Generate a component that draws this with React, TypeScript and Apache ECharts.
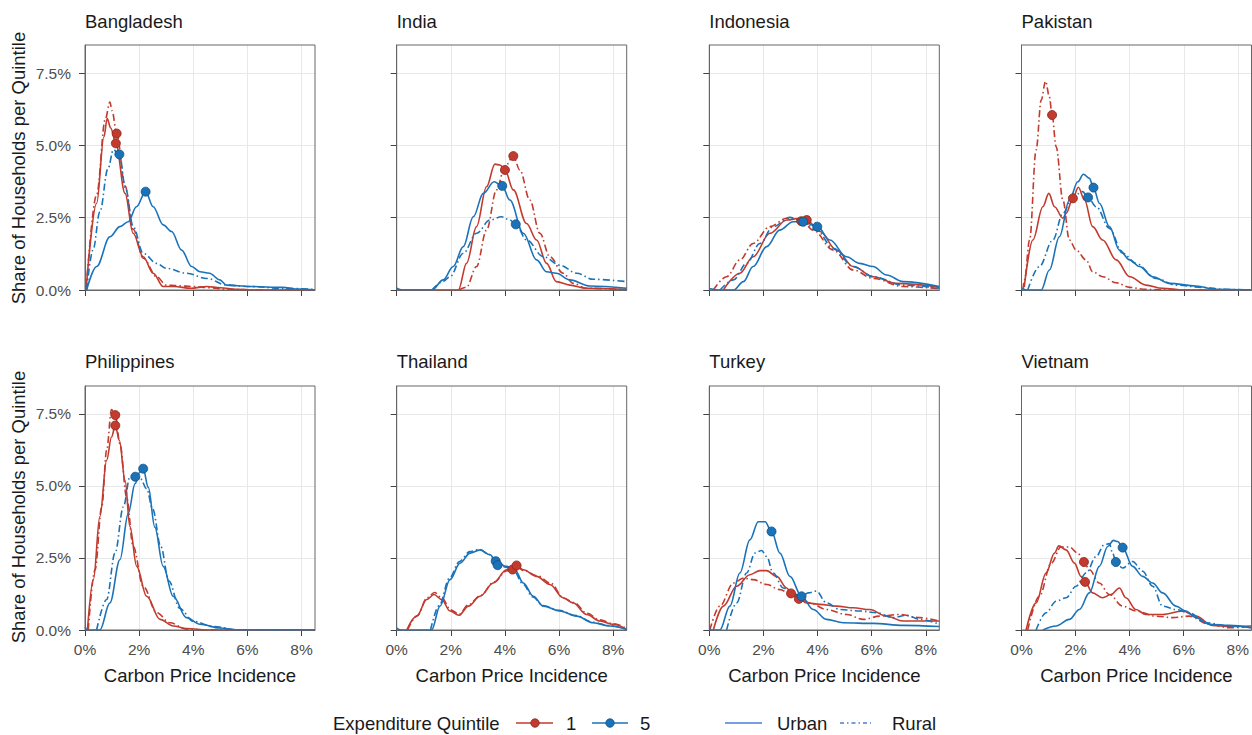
import React, { useEffect, useRef } from "react";
import * as echarts from "echarts";

// ---------- data (x = carbon price incidence %, y = share of households %) ----------
const COUNTRY_NAMES = ["Bangladesh", "India", "Indonesia", "Pakistan", "Philippines", "Thailand", "Turkey", "Vietnam"];
const X_TICKS = [0, 2, 4, 6, 8];
const Y_TICKS = [0, 2.5, 5, 7.5];

const BANGLADESH_Q1_URBAN = [[0.04,0],[0.43,3.0],[0.7,5.3],[0.82,5.93],[0.95,5.6],[1.14,5.07],[1.48,3.34],[1.78,1.96],[2.15,1.15],[2.52,0.58],[2.89,0.12],[3.3,0.12],[3.9,0.06],[4.5,0.12],[5.0,0.08],[5.6,0.02],[6.5,0],[8.5,0]];
const BANGLADESH_Q1_RURAL = [[0.04,0],[0.43,3.3],[0.75,5.9],[0.92,6.5],[1.0,6.2],[1.17,5.41],[1.48,3.6],[1.78,2.1],[2.15,1.1],[2.65,0.46],[3.0,0.17],[3.4,0.15],[4.0,0.12],[4.6,0.08],[5.2,0.03],[6.0,0.01],[8.5,0]];
const BANGLADESH_Q5_URBAN = [[0.06,0],[0.43,0.81],[0.92,1.84],[1.29,2.19],[1.6,2.36],[1.9,2.88],[2.24,3.4],[2.52,2.88],[2.89,2.25],[3.2,2.02],[3.57,1.38],[3.94,0.81],[4.25,0.63],[4.6,0.58],[4.98,0.35],[5.23,0.17],[6.1,0.12],[7.3,0.09],[7.9,0.03],[8.5,0]];
const BANGLADESH_Q5_RURAL = [[0.06,0],[0.3,1.4],[0.55,2.7],[0.85,4.2],[1.05,4.85],[1.27,4.69],[1.5,3.5],[1.78,2.19],[2.15,1.27],[2.65,0.92],[3.0,0.75],[3.75,0.58],[4.5,0.4],[5.23,0.17],[6.1,0.12],[7.3,0.06],[8.5,0.02]];
const BANGLADESH_MARKERS = [[1.14,5.07],[1.17,5.41],[2.24,3.4],[1.27,4.69]];

const INDIA_Q1_URBAN = [[0,0],[2.28,0],[2.58,0.92],[2.95,2.19],[3.32,3.57],[3.63,4.35],[3.82,4.32],[4.0,4.15],[4.31,3.46],[4.8,2.3],[5.17,1.73],[5.54,0.92],[5.9,0.29],[6.4,0.17],[7.0,0.06],[8.5,0.02]];
const INDIA_Q1_RURAL = [[2.3,0],[2.58,0.1],[2.95,0.81],[3.32,2.07],[3.69,3.46],[4.0,4.26],[4.31,4.63],[4.55,4.15],[4.92,3.11],[5.29,1.96],[5.66,1.15],[6.15,0.58],[6.52,0.23],[7.0,0.06],[8.5,0.01]];
const INDIA_Q5_URBAN = [[0,0.06],[0.2,0],[1.3,0],[1.72,0.35],[2.09,0.81],[2.46,1.5],[2.83,2.53],[3.2,3.34],[3.6,3.74],[3.9,3.6],[4.18,3.11],[4.68,1.96],[5.17,1.04],[5.54,0.63],[5.9,0.58],[6.4,0.35],[7.14,0.14],[8.5,0.06]];
const INDIA_Q5_RURAL = [[1.3,0],[1.72,0.3],[1.97,0.46],[2.46,1.27],[2.95,1.96],[3.45,2.42],[3.88,2.53],[4.18,2.42],[4.4,2.27],[4.8,1.73],[5.42,1.15],[6.03,0.86],[6.65,0.58],[7.26,0.37],[8.5,0.29]];
const INDIA_MARKERS = [[4.0,4.15],[4.31,4.63],[3.9,3.6],[4.4,2.27]];

const INDONESIA_Q1_URBAN = [[0.52,0],[1.13,0.58],[1.62,1.15],[2.24,1.96],[2.86,2.42],[3.35,2.48],[3.6,2.42],[4.09,2.02],[4.7,1.38],[5.32,0.81],[6.06,0.46],[6.9,0.23],[8.5,0.1]];
const INDONESIA_Q1_RURAL = [[0.15,0],[0.64,0.46],[1.13,1.04],[1.62,1.61],[2.24,2.19],[2.86,2.48],[3.4,2.42],[3.84,2.07],[4.58,1.38],[5.32,0.69],[6.06,0.4],[7.16,0.12],[8.5,0.05]];
const INDONESIA_Q5_URBAN = [[0,0.05],[0.3,0],[0.9,0],[1.26,0.29],[1.62,0.81],[2.12,1.5],[2.6,2.07],[3.1,2.36],[3.5,2.36],[3.99,2.19],[4.46,1.73],[5.07,1.15],[5.56,0.92],[6.05,0.81],[6.55,0.52],[7.16,0.29],[8.5,0.12]];
const INDONESIA_Q5_RURAL = [[0.4,0],[0.89,0.35],[1.38,0.92],[1.87,1.61],[2.36,2.19],[2.98,2.51],[3.47,2.36],[3.96,2.07],[4.58,1.44],[5.32,0.81],[6.06,0.46],[7.16,0.17],[8.5,0.06]];
const INDONESIA_MARKERS = [[3.6,2.42],[3.4,2.38],[3.99,2.19],[3.47,2.36]];

const PAKISTAN_Q1_URBAN = [[0.1,0.1],[0.42,1.73],[0.79,2.88],[1.01,3.34],[1.22,2.88],[1.53,2.48],[1.65,2.65],[1.9,3.17],[2.1,3.55],[2.33,3.11],[2.63,2.19],[3.0,1.73],[3.5,1.04],[4.0,0.46],[4.6,0.17],[5.2,0.06],[6.0,0],[8.5,0]];
const PAKISTAN_Q1_RURAL = [[0.05,0],[0.11,0.35],[0.3,1.73],[0.54,4.84],[0.73,6.57],[0.89,7.22],[1.03,6.68],[1.13,6.05],[1.28,4.95],[1.53,3.11],[1.77,1.73],[2.02,1.38],[2.39,1.04],[2.63,0.63],[3.0,0.46],[3.5,0.25],[4.0,0.09],[4.6,0.02],[5.5,0],[8.5,0]];
const PAKISTAN_Q5_URBAN = [[0,0.06],[0.2,0],[0.73,0],[1.03,0.69],[1.4,1.84],[1.77,3.11],[2.08,3.74],[2.29,4.0],[2.51,3.86],[2.66,3.54],[2.88,3.0],[3.25,2.19],[3.62,1.38],[4.0,1.04],[4.36,0.81],[4.85,0.46],[5.47,0.23],[6.45,0.14],[7.19,0.02],[8.5,0]];
const PAKISTAN_Q5_RURAL = [[0.23,0],[0.66,0.81],[1.16,1.73],[1.53,2.65],[1.9,3.23],[2.26,3.4],[2.46,3.2],[2.76,2.88],[3.25,2.13],[3.74,1.27],[4.23,0.92],[4.97,0.4],[5.71,0.17],[6.7,0.09],[7.5,0.02],[8.5,0]];
const PAKISTAN_MARKERS = [[1.9,3.17],[1.13,6.05],[2.66,3.54],[2.46,3.2]];

const PHILIPPINES_Q1_URBAN = [[0.09,0],[0.31,1.75],[0.55,3.94],[0.8,5.89],[0.98,6.7],[1.12,7.1],[1.27,6.58],[1.48,5.2],[1.66,3.59],[1.91,2.21],[2.28,1.17],[2.77,0.37],[3.26,0.14],[3.75,0.05],[4.5,0],[8.5,0]];
const PHILIPPINES_Q1_RURAL = [[0.12,0],[0.37,2.09],[0.62,4.28],[0.8,6.24],[0.98,7.65],[1.12,7.46],[1.29,6.47],[1.54,4.6],[1.78,2.9],[2.15,1.52],[2.65,0.6],[3.14,0.25],[3.75,0.03],[4.5,0],[8.5,0]];
const PHILIPPINES_Q5_URBAN = [[0,0.1],[0.1,0],[0.55,0],[0.92,0.94],[1.29,2.44],[1.6,4.05],[1.85,5.08],[2.03,5.49],[2.15,5.6],[2.34,4.95],[2.58,3.57],[2.89,2.21],[3.26,1.17],[3.75,0.43],[4.25,0.2],[4.98,0.07],[5.7,0],[8.5,0]];
const PHILIPPINES_Q5_RURAL = [[0.43,0],[0.8,1.06],[1.11,2.67],[1.42,4.28],[1.66,5.31],[1.86,5.32],[2.05,5.25],[2.28,4.9],[2.5,4.2],[2.8,2.9],[3.1,1.7],[3.5,0.75],[4.0,0.3],[4.74,0.12],[5.7,0],[8.5,0]];
const PHILIPPINES_MARKERS = [[1.12,7.1],[1.12,7.46],[2.15,5.6],[1.86,5.32]];

const THAILAND_Q1_URBAN = [[0.37,0],[0.74,0.48],[1.11,1.06],[1.38,1.23],[1.66,1.06],[1.97,0.66],[2.3,0.51],[2.65,0.83],[3.08,1.17],[3.57,1.63],[4.06,2.09],[4.28,2.12],[4.43,2.23],[4.68,2.09],[5.17,1.86],[5.66,1.58],[6.15,1.12],[6.52,0.94],[7.02,0.54],[7.51,0.31],[8.0,0.2],[8.5,0.02]];
const THAILAND_Q1_RURAL = [[0.4,0],[0.77,0.5],[1.12,1.12],[1.4,1.3],[1.68,1.1],[1.99,0.7],[2.3,0.55],[2.66,0.88],[3.1,1.2],[3.6,1.67],[4.06,2.05],[4.3,2.12],[4.43,2.2],[4.7,2.06],[5.2,1.88],[5.7,1.62],[6.17,1.1],[6.55,0.95],[7.04,0.58],[7.5,0.35],[8.0,0.22],[8.5,0.05]];
const THAILAND_Q5_URBAN = [[0,0.06],[0.15,0],[1.29,0],[1.6,0.83],[1.97,1.75],[2.34,2.32],[2.71,2.67],[3.08,2.78],[3.45,2.61],[3.69,2.35],[4.06,2.21],[4.37,2.09],[4.68,1.63],[5.05,1.17],[5.42,0.83],[6.03,0.66],[6.65,0.48],[7.26,0.25],[7.88,0.14],[8.5,0.02]];
const THAILAND_Q5_RURAL = [[1.25,0],[1.57,0.85],[1.95,1.8],[2.32,2.38],[2.7,2.72],[3.05,2.8],[3.42,2.62],[3.66,2.38],[4.04,2.18],[4.35,2.02],[4.66,1.6],[5.03,1.15],[5.4,0.85],[6.0,0.68],[6.63,0.5],[7.24,0.27],[7.86,0.15],[8.5,0.03]];
const THAILAND_MARKERS = [[4.28,2.1],[4.43,2.24],[3.66,2.39],[3.73,2.25]];

const TURKEY_Q1_URBAN = [[0.15,0],[0.52,0.83],[1.01,1.52],[1.5,1.92],[1.87,2.06],[2.12,2.06],[2.49,1.86],[2.86,1.46],[3.02,1.3],[3.31,1.08],[3.6,0.94],[4.09,0.89],[4.7,0.83],[5.32,0.77],[5.93,0.71],[6.55,0.48],[7.16,0.31],[8.5,0.31]];
const TURKEY_Q1_RURAL = [[0.02,0],[0.39,0.83],[0.89,1.63],[1.26,1.8],[1.62,1.75],[2.12,1.58],[2.61,1.4],[2.98,1.27],[3.31,1.1],[3.72,0.94],[4.33,0.71],[5.07,0.54],[5.69,0.37],[6.3,0.48],[7.04,0.54],[7.78,0.43],[8.5,0.31]];
const TURKEY_Q5_URBAN = [[0,0.06],[0.1,0],[0.39,0],[0.76,0.83],[1.13,1.98],[1.5,3.13],[1.81,3.76],[2.06,3.76],[2.3,3.42],[2.61,2.67],[2.98,1.86],[3.41,1.17],[3.84,0.71],[4.33,0.37],[4.95,0.25],[6.06,0.23],[7.16,0.16],[8.5,0.12]];
const TURKEY_Q5_RURAL = [[0.64,0],[1.01,0.94],[1.38,1.98],[1.69,2.67],[1.93,2.76],[2.12,2.55],[2.36,1.98],[2.73,1.46],[3.1,1.27],[3.41,1.17],[3.66,1.29],[3.96,1.35],[4.33,0.94],[4.82,0.71],[5.56,0.66],[6.18,0.6],[6.79,0.43],[7.28,0.51],[7.78,0.37],[8.5,0.2]];
const TURKEY_MARKERS = [[3.31,1.08],[3.02,1.27],[2.3,3.42],[3.41,1.17]];

const VIETNAM_Q1_URBAN = [[0.17,0],[0.54,0.94],[0.91,1.98],[1.22,2.67],[1.38,2.92],[1.65,2.78],[1.96,2.32],[2.2,1.86],[2.35,1.67],[2.63,1.29],[3.0,1.12],[3.31,1.23],[3.62,1.46],[3.86,1.12],[4.23,0.71],[4.6,0.54],[5.22,0.54],[5.96,0.66],[6.45,0.48],[7.06,0.16],[7.68,0.12],[8.5,0.14]];
const VIETNAM_Q1_RURAL = [[0.23,0],[0.66,1.17],[1.1,2.32],[1.46,2.88],[1.77,2.88],[2.08,2.67],[2.31,2.36],[2.51,2.09],[2.88,1.63],[3.25,1.23],[3.74,0.83],[4.23,0.66],[4.97,0.48],[5.59,0.43],[6.2,0.48],[6.94,0.2],[7.68,0.08],[8.5,0.12]];
const VIETNAM_Q5_URBAN = [[0.79,0],[1.28,0.14],[1.77,0.37],[2.14,0.71],[2.51,1.29],[2.88,2.21],[3.19,2.9],[3.4,3.11],[3.56,3.07],[3.74,2.86],[4.11,2.21],[4.48,1.86],[4.85,1.63],[5.22,1.29],[5.71,0.83],[6.08,0.66],[6.45,0.43],[6.94,0.2],[7.68,0.16],[8.5,0.08]];
const VIETNAM_Q5_RURAL = [[0.54,0],[0.91,0.6],[1.28,1.0],[1.65,1.12],[2.02,1.52],[2.39,1.98],[2.76,2.55],[3.06,2.96],[3.25,3.0],[3.37,2.67],[3.49,2.36],[3.74,2.15],[4.11,2.38],[4.48,2.04],[4.85,1.52],[5.22,0.83],[5.71,0.71],[6.2,0.6],[6.82,0.25],[7.68,0.14],[8.5,0.08]];
const VIETNAM_MARKERS = [[2.35,1.67],[2.31,2.36],[3.74,2.86],[3.49,2.36]];

// ---------- layout / style ----------
const RED = "#c23b2e";
const BLUE = "#1a73b9";
const RED_EDGE = "#8a2519";
const BLUE_EDGE = "#0e4c80";
const LEGEND_BLUE = "#4a7ddb";
const FONT = "'Liberation Sans', Arial, sans-serif";
const DASH_DOT = [7, 3, 1.5, 3];
const COL_LEFT = [85, 396.7, 709.3, 1021.5];
const ROW_TOP = [45, 386];
const ROW_H = [245, 244];
const PANEL_W = 230;
const X_MAX = 8.5;
const Y_MAX = 8.47;

const PANELS = [
  [BANGLADESH_Q1_URBAN, BANGLADESH_Q1_RURAL, BANGLADESH_Q5_URBAN, BANGLADESH_Q5_RURAL, BANGLADESH_MARKERS],
  [INDIA_Q1_URBAN, INDIA_Q1_RURAL, INDIA_Q5_URBAN, INDIA_Q5_RURAL, INDIA_MARKERS],
  [INDONESIA_Q1_URBAN, INDONESIA_Q1_RURAL, INDONESIA_Q5_URBAN, INDONESIA_Q5_RURAL, INDONESIA_MARKERS],
  [PAKISTAN_Q1_URBAN, PAKISTAN_Q1_RURAL, PAKISTAN_Q5_URBAN, PAKISTAN_Q5_RURAL, PAKISTAN_MARKERS],
  [PHILIPPINES_Q1_URBAN, PHILIPPINES_Q1_RURAL, PHILIPPINES_Q5_URBAN, PHILIPPINES_Q5_RURAL, PHILIPPINES_MARKERS],
  [THAILAND_Q1_URBAN, THAILAND_Q1_RURAL, THAILAND_Q5_URBAN, THAILAND_Q5_RURAL, THAILAND_MARKERS],
  [TURKEY_Q1_URBAN, TURKEY_Q1_RURAL, TURKEY_Q5_URBAN, TURKEY_Q5_RURAL, TURKEY_MARKERS],
  [VIETNAM_Q1_URBAN, VIETNAM_Q1_RURAL, VIETNAM_Q5_URBAN, VIETNAM_Q5_RURAL, VIETNAM_MARKERS],
];

function buildOption() {
  const grid: any[] = [];
  const xAxis: any[] = [];
  const yAxis: any[] = [];
  const series: any[] = [];
  const graphic: any[] = [];

  COUNTRY_NAMES.forEach((name, i) => {
    const row = Math.floor(i / 4);
    const col = i % 4;
    const left = COL_LEFT[col];
    const top = ROW_TOP[row];
    const h = ROW_H[row];
    grid.push({ left, top, width: PANEL_W, height: h, show: false, containLabel: false });

    xAxis.push({
      type: "value",
      gridIndex: i,
      min: 0,
      max: X_MAX,
      interval: 2,
      axisLine: { show: true, lineStyle: { color: "#666", width: 1 } },
      axisTick: { show: true, length: 6, customValues: X_TICKS, lineStyle: { color: "#444" } },
      axisLabel: {
        show: row === 1,
        customValues: X_TICKS,
        formatter: (v: number) => `${v}%`,
        color: "#4d4d4d",
        fontSize: 15.5,
        fontFamily: FONT,
        margin: 11,
      },
      splitLine: { show: true, lineStyle: { color: "#e8e8e8", width: 1 } },
      name: row === 1 ? "Carbon Price Incidence" : "",
      nameLocation: "middle",
      nameGap: 36,
      nameTextStyle: { color: "#1a1a1a", fontSize: 18.5, fontFamily: FONT },
    });

    yAxis.push({
      type: "value",
      gridIndex: i,
      min: 0,
      max: Y_MAX,
      interval: 2.5,
      axisLine: { show: true, lineStyle: { color: "#666", width: 1 } },
      axisTick: { show: true, length: 6, customValues: Y_TICKS, lineStyle: { color: "#444" } },
      axisLabel: {
        show: col === 0,
        customValues: Y_TICKS,
        formatter: (v: number) => `${v.toFixed(1)}%`,
        color: "#4d4d4d",
        fontSize: 15.5,
        fontFamily: FONT,
        margin: 14,
      },
      splitLine: { show: true, lineStyle: { color: "#e8e8e8", width: 1 } },
    });

    const [q1u, q1r, q5u, q5r, markers] = PANELS[i] as any[];
    const lines = [
      { data: q1u, color: RED, dash: "solid" },
      { data: q1r, color: RED, dash: DASH_DOT },
      { data: q5u, color: BLUE, dash: "solid" },
      { data: q5r, color: BLUE, dash: DASH_DOT },
    ];
    lines.forEach((l) => {
      series.push({
        type: "line",
        xAxisIndex: i,
        yAxisIndex: i,
        data: l.data,
        showSymbol: false,
        symbol: "none",
        smooth: 0.35,
        smoothMonotone: "x",
        silent: true,
        lineStyle: { color: l.color, width: 1.6, type: l.dash },
        z: 3,
      });
    });
    series.push({
      type: "scatter",
      xAxisIndex: i,
      yAxisIndex: i,
      symbolSize: 9,
      silent: true,
      z: 5,
      itemStyle: { opacity: 1 },
      data: (markers as number[][]).map((m, k) => ({
        value: m,
        itemStyle: {
          opacity: 1,
          color: k < 2 ? RED : BLUE,
          borderColor: k < 2 ? RED_EDGE : BLUE_EDGE,
          borderWidth: 0.8,
        },
      })),
    });

    // panel frame
    graphic.push({
      type: "rect",
      silent: true,
      z: 50,
      shape: { x: left, y: top, width: PANEL_W, height: h },
      style: { fill: "transparent", stroke: "#666", lineWidth: 1 },
    });
    // panel title
    graphic.push({
      type: "text",
      silent: true,
      x: left,
      y: row === 0 ? 21 : 361,
      style: {
        text: name,
        fill: "#1a1a1a",
        font: `18.5px ${FONT}`,
        align: "left",
        verticalAlign: "middle",
        textAlign: "left",
        textVerticalAlign: "middle",
      },
    });
  });

  // y axis titles
  [168, 507].forEach((cy) => {
    graphic.push({
      type: "text",
      silent: true,
      x: 18.5,
      y: cy,
      rotation: Math.PI / 2,
      style: {
        text: "Share of Households per Quintile",
        fill: "#1a1a1a",
        font: `18.5px ${FONT}`,
        align: "center",
        verticalAlign: "middle",
        textAlign: "center",
        textVerticalAlign: "middle",
      },
    });
  });

  // legend
  const ly = 723;
  const txt = (text: string, x: number) => ({
    type: "text",
    silent: true,
    x,
    y: ly,
    style: {
      text,
      fill: "#1a1a1a",
      font: `18.5px ${FONT}`,
      align: "left",
      verticalAlign: "middle",
      textAlign: "left",
      textVerticalAlign: "middle",
    },
  });
  const seg = (x1: number, x2: number, color: string, dash?: number[]) => ({
    type: "line",
    silent: true,
    shape: { x1, y1: ly, x2, y2: ly },
    style: { stroke: color, lineWidth: 1.6, lineDash: dash || null },
  });
  const dot = (cx: number, color: string, edge: string) => ({
    type: "circle",
    silent: true,
    shape: { cx, cy: ly, r: 4.2 },
    style: { fill: color, stroke: edge, lineWidth: 0.8 },
  });
  graphic.push(txt("Expenditure Quintile", 333));
  graphic.push(seg(516, 553, RED));
  graphic.push(dot(535, RED, RED_EDGE));
  graphic.push(txt("1", 566));
  graphic.push(seg(592, 628, BLUE));
  graphic.push(dot(610, BLUE, BLUE_EDGE));
  graphic.push(txt("5", 640));
  graphic.push(seg(725, 762, LEGEND_BLUE));
  graphic.push(txt("Urban", 777));
  graphic.push(seg(840, 871, LEGEND_BLUE, [4, 3, 1.5, 3]));
  graphic.push(txt("Rural", 892));

  return {
    animation: false,
    backgroundColor: "#ffffff",
    textStyle: { fontFamily: FONT },
    grid,
    xAxis,
    yAxis,
    series,
    graphic,
  };
}

export default function App() {
  const ref = useRef<HTMLDivElement>(null);
  useEffect(() => {
    if (!ref.current) return;
    const chart = echarts.init(ref.current, undefined, { renderer: "svg" });
    chart.setOption(buildOption() as any);
    return () => chart.dispose();
  }, []);
  return (
    <div
      ref={ref}
      style={{ position: "fixed", left: 0, top: 0, width: 1252, height: 735, background: "#fff" }}
    />
  );
}
